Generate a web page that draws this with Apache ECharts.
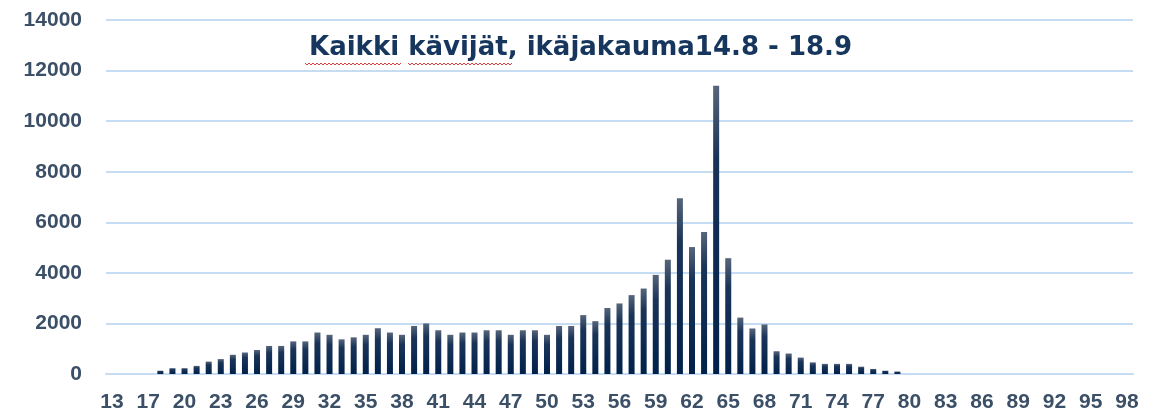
<!DOCTYPE html>
<html>
<head>
<meta charset="utf-8">
<script src="https://cdn.jsdelivr.net/npm/echarts@6/dist/echarts.min.js"></script>
<style>
  html, body { margin: 0; padding: 0; background: #fff; }
  #chart { width: 1165px; height: 418px; }
</style>
</head>
<body>
<div id="chart"></div>
<script>
// ikä (kuvasta puuttuu kaksi ikää 13 ja 17 välistä)
var ages = ['13', '15', '16', '17', '18', '19', '20', '21', '22', '23', '24', '25', '26', '27', '28', '29', '30',
  '31', '32', '33', '34', '35', '36', '37', '38', '39', '40', '41', '42', '43', '44', '45', '46', '47', '48', '49', '50',
  '51', '52', '53', '54', '55', '56', '57', '58', '59', '60', '61', '62', '63', '64', '65', '66', '67', '68', '69', '70',
  '71', '72', '73', '74', '75', '76', '77', '78', '79', '80', '81', '82', '83', '84', '85', '86', '87', '88', '89', '90',
  '91', '92', '93', '94', '95', '96', '97', '98']

// kävijät per ikä
var visitors = [0, 0, 0, 0, 130, 230, 230, 320, 490, 590, 760, 850, 950, 1110, 1110, 1290, 1290,
  1640, 1550, 1370, 1450, 1550, 1810, 1640, 1550, 1900, 2000, 1730, 1550, 1640, 1640, 1730, 1730, 1550, 1730, 1730, 1550,
  1900, 1900, 2330, 2090, 2610, 2790, 3120, 3380, 3920, 4520, 6950, 5020, 5620, 11400, 4580, 2230, 1800, 1960, 900, 810,
  650, 460, 400, 400, 400, 290, 200, 130, 100, 0, 0, 0, 0, 0, 0, 0, 0, 0, 0, 0,
  0, 0, 0, 0, 0, 0, 0, 0]

var titleText = 'Kaikki kävijät, ikäjakauma14.8 - 18.9'

// spellcheck-aaltoviiva otsikon alla
function wavy (x0, x1, y) {
  var pts = []
  var up = true
  for (var x = x0; x <= x1; x += 2) {
    pts.push([x, up ? y : y + 2])
    up = !up
  }
  return pts
}

var myChart = echarts.init(document.getElementById('chart'))
var labelColor = '#3b4f67'
var gridColor = '#c5dcf3'

var option = {
  backgroundColor: '#fff',
  animation: false,
  title: {
    text: titleText,
    left: 304,
    top: 30,
    textStyle: {
      fontFamily: 'DejaVu Sans',
      fontWeight: 'bold',
      fontSize: 26,
      color: '#17365d'
    }
  },
  graphic: [
    { type: 'polyline', shape: { points: wavy(305, 401, 63) }, style: { stroke: '#e0403a', lineWidth: 1, fill: null }, silent: true },
    { type: 'polyline', shape: { points: wavy(408, 512, 63) }, style: { stroke: '#e0403a', lineWidth: 1, fill: null }, silent: true }
  ],
  grid: {
    left: 106,
    right: 32,
    top: 20,
    bottom: 44
  },
  xAxis: {
    type: 'category',
    data: ages,
    axisLine: { lineStyle: { color: gridColor, width: 2 } },
    axisTick: { show: false },
    axisLabel: {
      interval: 2,
      margin: 18,
      fontFamily: 'Liberation Sans',
      fontWeight: 'bold',
      fontSize: 21,
      color: labelColor
    }
  },
  yAxis: {
    type: 'value',
    min: 0,
    max: 14000,
    interval: 2000,
    axisLine: { show: false },
    axisTick: { show: false },
    axisLabel: {
      margin: 24,
      fontFamily: 'Liberation Sans',
      fontWeight: 'bold',
      fontSize: 21,
      color: labelColor,
      formatter: function (v) { return String(v) }
    },
    splitLine: { lineStyle: { color: gridColor, width: 2 } }
  },
  series: [
    {
      name: 'Kävijät',
      type: 'bar',
      data: visitors,
      barWidth: 6,
      itemStyle: {
        color: new echarts.graphic.LinearGradient(0, 0, 0, 1, [
          { offset: 0, color: '#56657b' },
          { offset: 0.25, color: '#1a3458' },
          { offset: 1, color: '#00214a' }
        ])
      }
    }
  ]
}
myChart.setOption(option)
</script>
</body>
</html>
